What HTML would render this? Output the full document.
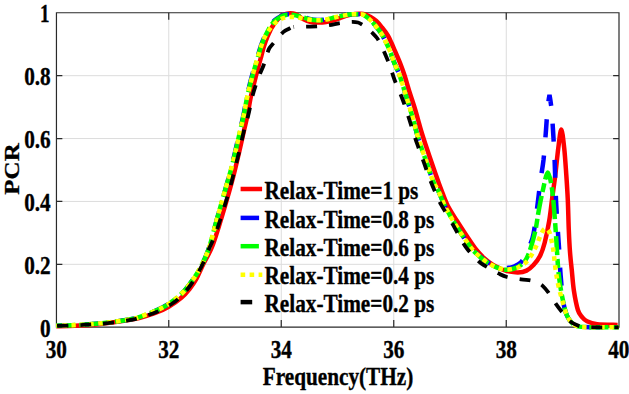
<!DOCTYPE html><html><head><meta charset="utf-8"><style>html,body{margin:0;padding:0;background:#fff;overflow:hidden}svg{display:block}text{font-family:"Liberation Serif",serif;font-weight:bold;fill:#000;stroke:#000;stroke-width:0.35px}</style></head><body>
<svg width="629" height="394" viewBox="0 0 629 394">
<path d="M168.75,12.80V327.20M281.25,12.80V327.20M393.75,12.80V327.20M506.25,12.80V327.20M56.25,264.32H618.75M56.25,201.44H618.75M56.25,138.56H618.75M56.25,75.68H618.75" stroke="#dcdcdc" stroke-width="1" fill="none"/>
<path d="M168.75,327.1v-7.1M168.75,12.75v7.1M281.25,327.1v-7.1M281.25,12.75v7.1M393.75,327.1v-7.1M393.75,12.75v7.1M506.25,327.1v-7.1M506.25,12.75v7.1M56.45,264.32h5.9M619.0,264.32h-5.9M56.45,201.44h5.9M619.0,201.44h-5.9M56.45,138.56h5.9M619.0,138.56h-5.9M56.45,75.68h5.9M619.0,75.68h-5.9" stroke="#2a2a2a" stroke-width="1.2" fill="none"/>
<path d="M56.45,12.75H619.0V327.1H56.45Z" stroke="#2a2a2a" stroke-width="1.2" fill="none"/>
<path d="M56.25,326.20 C59.38,326.12 69.04,325.92 75.00,325.70 C80.96,325.48 85.83,325.43 92.00,324.90 C98.17,324.37 105.33,323.40 112.00,322.50 C118.67,321.60 127.33,320.28 132.00,319.50 C136.67,318.72 135.92,318.97 140.00,317.80 C144.08,316.63 151.73,314.33 156.50,312.50 C161.27,310.67 164.47,309.25 168.60,306.80 C172.73,304.35 177.82,300.77 181.30,297.80 C184.78,294.83 186.97,292.18 189.50,289.00 C192.03,285.82 194.25,282.75 196.50,278.70 C198.75,274.65 200.45,269.90 203.00,264.70 C205.55,259.50 209.13,253.95 211.80,247.50 C214.47,241.05 216.55,233.75 219.00,226.00 C221.45,218.25 224.12,209.25 226.50,201.00 C228.88,192.75 231.15,184.83 233.30,176.50 C235.45,168.17 237.62,158.67 239.40,151.00 C241.18,143.33 242.65,136.50 244.00,130.50 C245.35,124.50 246.33,120.75 247.50,115.00 C248.67,109.25 249.58,102.55 251.00,96.00 C252.42,89.45 254.25,82.48 256.00,75.70 C257.75,68.92 260.13,60.33 261.50,55.30 C262.87,50.27 263.23,48.55 264.20,45.50 C265.17,42.45 266.03,40.00 267.30,37.00 C268.57,34.00 270.08,30.42 271.80,27.50 C273.52,24.58 275.90,21.50 277.60,19.50 C279.30,17.50 280.43,16.48 282.00,15.50 C283.57,14.52 285.17,13.93 287.00,13.60 C288.83,13.27 291.33,13.27 293.00,13.50 C294.67,13.73 295.50,14.18 297.00,15.00 C298.50,15.82 299.83,17.28 302.00,18.40 C304.17,19.52 307.33,21.00 310.00,21.70 C312.67,22.40 315.33,22.55 318.00,22.60 C320.67,22.65 323.00,22.52 326.00,22.00 C329.00,21.48 332.67,20.53 336.00,19.50 C339.33,18.47 342.83,16.72 346.00,15.80 C349.17,14.88 352.50,14.33 355.00,14.00 C357.50,13.67 359.22,13.70 361.00,13.80 C362.78,13.90 364.20,14.13 365.70,14.60 C367.20,15.07 368.23,15.53 370.00,16.60 C371.77,17.67 374.30,19.18 376.30,21.00 C378.30,22.82 380.08,25.08 382.00,27.50 C383.92,29.92 386.22,32.92 387.80,35.50 C389.38,38.08 390.33,40.47 391.50,43.00 C392.67,45.53 393.38,47.38 394.80,50.70 C396.22,54.02 398.40,58.85 400.00,62.90 C401.60,66.95 402.82,70.15 404.40,75.00 C405.98,79.85 407.83,86.67 409.50,92.00 C411.17,97.33 412.98,102.42 414.40,107.00 C415.82,111.58 416.87,115.50 418.00,119.50 C419.13,123.50 420.03,127.08 421.20,131.00 C422.37,134.92 423.67,138.93 425.00,143.00 C426.33,147.07 427.78,151.23 429.20,155.40 C430.62,159.57 432.03,163.77 433.50,168.00 C434.97,172.23 436.68,177.13 438.00,180.80 C439.32,184.47 439.82,185.93 441.40,190.00 C442.98,194.07 444.95,200.12 447.50,205.20 C450.05,210.28 453.52,215.42 456.70,220.50 C459.88,225.58 463.30,230.78 466.60,235.70 C469.90,240.62 473.43,246.12 476.50,250.00 C479.57,253.88 482.25,256.50 485.00,259.00 C487.75,261.50 490.50,263.42 493.00,265.00 C495.50,266.58 497.67,267.50 500.00,268.50 C502.33,269.50 504.00,270.35 507.00,271.00 C510.00,271.65 514.75,272.47 518.00,272.40 C521.25,272.33 523.92,271.83 526.50,270.60 C529.08,269.37 531.25,267.43 533.50,265.00 C535.75,262.57 538.15,259.67 540.00,256.00 C541.85,252.33 543.07,248.83 544.60,243.00 C546.13,237.17 547.93,228.50 549.20,221.00 C550.47,213.50 551.18,205.67 552.20,198.00 C553.22,190.33 554.28,183.33 555.30,175.00 C556.32,166.67 557.30,155.58 558.30,148.00 C559.30,140.42 560.32,129.50 561.30,129.50 C562.28,129.50 563.37,140.42 564.20,148.00 C565.03,155.58 565.70,166.33 566.30,175.00 C566.90,183.67 567.38,190.83 567.80,200.00 C568.22,209.17 568.43,221.33 568.80,230.00 C569.17,238.67 569.50,245.28 570.00,252.00 C570.50,258.72 571.15,263.85 571.80,270.30 C572.45,276.75 572.88,284.08 573.90,290.70 C574.92,297.32 576.55,305.62 577.90,310.00 C579.25,314.38 580.48,315.12 582.00,317.00 C583.52,318.88 584.47,320.10 587.00,321.30 C589.53,322.50 592.10,323.60 597.20,324.20 C602.30,324.80 614.20,324.78 617.60,324.90" stroke="#ff0000" stroke-width="4.5" fill="none" stroke-linejoin="round"/>
<path d="M56.25,325.80 C59.38,325.68 69.04,325.38 75.00,325.10 C80.96,324.82 86.17,324.57 92.00,324.10 C97.83,323.63 103.33,323.15 110.00,322.30 C116.67,321.45 127.00,319.92 132.00,319.00 C137.00,318.08 135.92,318.23 140.00,316.80 C144.08,315.37 151.73,312.53 156.50,310.40 C161.27,308.27 164.47,306.73 168.60,304.00 C172.73,301.27 177.82,297.28 181.30,294.00 C184.78,290.72 186.75,287.93 189.50,284.30 C192.25,280.67 195.32,276.33 197.80,272.20 C200.28,268.07 202.40,263.95 204.40,259.50 C206.40,255.05 207.88,251.58 209.80,245.50 C211.72,239.42 213.77,230.75 215.90,223.00 C218.03,215.25 220.82,205.33 222.60,199.00 C224.38,192.67 225.30,189.67 226.60,185.00 C227.90,180.33 228.95,176.67 230.40,171.00 C231.85,165.33 233.72,157.75 235.30,151.00 C236.88,144.25 238.53,136.50 239.90,130.50 C241.27,124.50 242.32,120.75 243.50,115.00 C244.68,109.25 245.58,102.55 247.00,96.00 C248.42,89.45 250.17,82.48 252.00,75.70 C253.83,68.92 256.50,60.33 258.00,55.30 C259.50,50.27 259.93,48.55 261.00,45.50 C262.07,42.45 262.93,40.20 264.40,37.00 C265.87,33.80 268.03,29.13 269.80,26.30 C271.57,23.47 273.23,21.65 275.00,20.00 C276.77,18.35 278.65,17.32 280.40,16.40 C282.15,15.48 283.80,14.87 285.50,14.50 C287.20,14.13 288.90,14.17 290.60,14.20 C292.30,14.23 294.02,14.42 295.70,14.70 C297.38,14.98 298.60,15.25 300.70,15.90 C302.80,16.55 305.53,17.90 308.30,18.60 C311.07,19.30 314.35,19.98 317.30,20.10 C320.25,20.22 322.83,19.85 326.00,19.30 C329.17,18.75 333.02,17.52 336.30,16.80 C339.58,16.08 343.08,15.42 345.70,15.00 C348.32,14.58 349.95,14.43 352.00,14.30 C354.05,14.17 356.17,14.15 358.00,14.20 C359.83,14.25 361.22,13.87 363.00,14.60 C364.78,15.33 366.78,16.95 368.70,18.60 C370.62,20.25 372.33,21.93 374.50,24.50 C376.67,27.07 379.87,31.17 381.70,34.00 C383.53,36.83 384.23,38.92 385.50,41.50 C386.77,44.08 387.83,45.93 389.30,49.50 C390.77,53.07 392.55,58.48 394.30,62.90 C396.05,67.32 397.62,69.75 399.80,76.00 C401.98,82.25 405.28,93.57 407.40,100.40 C409.52,107.23 410.73,110.82 412.50,117.00 C414.27,123.18 415.80,130.33 418.00,137.50 C420.20,144.67 423.20,152.78 425.70,160.00 C428.20,167.22 430.88,175.63 433.00,180.80 C435.12,185.97 436.48,186.93 438.40,191.00 C440.32,195.07 442.08,200.28 444.50,205.20 C446.92,210.12 449.85,215.37 452.90,220.50 C455.95,225.63 459.62,231.33 462.80,236.00 C465.98,240.67 469.30,245.25 472.00,248.50 C474.70,251.75 476.67,253.38 479.00,255.50 C481.33,257.62 483.67,259.62 486.00,261.20 C488.33,262.78 490.67,263.97 493.00,265.00 C495.33,266.03 497.67,266.90 500.00,267.40 C502.33,267.90 504.67,268.15 507.00,268.00 C509.33,267.85 511.67,267.45 514.00,266.50 C516.33,265.55 519.00,264.38 521.00,262.30 C523.00,260.22 524.50,256.88 526.00,254.00 C527.50,251.12 528.75,248.33 530.00,245.00 C531.25,241.67 532.25,240.67 533.50,234.00 C534.75,227.33 536.33,214.00 537.50,205.00 C538.67,196.00 539.50,187.50 540.50,180.00 C541.50,172.50 542.58,168.33 543.50,160.00 C544.42,151.67 545.32,138.67 546.00,130.00 C546.68,121.33 547.02,113.87 547.60,108.00 C548.18,102.13 549.50,94.80 549.50,94.80 C549.50,94.80 550.82,102.13 551.40,108.00 C551.98,113.87 552.47,121.33 553.00,130.00 C553.53,138.67 554.10,148.33 554.60,160.00 C555.10,171.67 555.47,188.33 556.00,200.00 C556.53,211.67 557.25,221.33 557.80,230.00 C558.35,238.67 558.83,244.50 559.30,252.00 C559.77,259.50 559.93,266.67 560.60,275.00 C561.27,283.33 562.28,295.33 563.30,302.00 C564.32,308.67 565.25,311.50 566.70,315.00 C568.15,318.50 570.12,321.10 572.00,323.00 C573.88,324.90 575.00,325.70 578.00,326.40 C581.00,327.10 583.21,327.05 590.00,327.20 C596.79,327.35 613.96,327.28 618.75,327.30" stroke="#0000ff" stroke-width="4.5" fill="none" stroke-linejoin="bevel" stroke-dasharray="18 18" stroke-dashoffset="10"/>
<path d="M56.25,325.80 C59.38,325.68 69.04,325.38 75.00,325.10 C80.96,324.82 86.17,324.57 92.00,324.10 C97.83,323.63 103.33,323.15 110.00,322.30 C116.67,321.45 127.00,319.92 132.00,319.00 C137.00,318.08 135.92,318.23 140.00,316.80 C144.08,315.37 151.73,312.53 156.50,310.40 C161.27,308.27 164.47,306.73 168.60,304.00 C172.73,301.27 177.82,297.28 181.30,294.00 C184.78,290.72 186.75,287.93 189.50,284.30 C192.25,280.67 195.32,276.33 197.80,272.20 C200.28,268.07 202.40,263.95 204.40,259.50 C206.40,255.05 207.88,251.58 209.80,245.50 C211.72,239.42 213.77,230.75 215.90,223.00 C218.03,215.25 220.82,205.33 222.60,199.00 C224.38,192.67 225.27,189.67 226.60,185.00 C227.93,180.33 229.10,176.67 230.60,171.00 C232.10,165.33 234.00,157.75 235.60,151.00 C237.20,144.25 238.83,136.50 240.20,130.50 C241.57,124.50 242.60,120.75 243.80,115.00 C245.00,109.25 245.95,102.55 247.40,96.00 C248.85,89.45 250.67,82.48 252.50,75.70 C254.33,68.92 256.92,60.33 258.40,55.30 C259.88,50.27 260.33,48.55 261.40,45.50 C262.47,42.45 263.33,40.15 264.80,37.00 C266.27,33.85 268.45,29.37 270.20,26.60 C271.95,23.83 273.60,22.02 275.30,20.40 C277.00,18.78 278.70,17.80 280.40,16.90 C282.10,16.00 283.80,15.35 285.50,15.00 C287.20,14.65 288.90,14.73 290.60,14.80 C292.30,14.87 294.02,15.10 295.70,15.40 C297.38,15.70 298.60,16.00 300.70,16.60 C302.80,17.20 305.53,18.38 308.30,19.00 C311.07,19.62 314.35,20.22 317.30,20.30 C320.25,20.38 322.83,20.05 326.00,19.50 C329.17,18.95 333.02,17.73 336.30,17.00 C339.58,16.27 343.08,15.55 345.70,15.10 C348.32,14.65 349.95,14.45 352.00,14.30 C354.05,14.15 356.17,14.15 358.00,14.20 C359.83,14.25 361.22,13.87 363.00,14.60 C364.78,15.33 366.78,16.95 368.70,18.60 C370.62,20.25 372.33,21.93 374.50,24.50 C376.67,27.07 379.87,31.17 381.70,34.00 C383.53,36.83 384.23,38.92 385.50,41.50 C386.77,44.08 387.83,45.93 389.30,49.50 C390.77,53.07 392.55,58.48 394.30,62.90 C396.05,67.32 397.62,69.75 399.80,76.00 C401.98,82.25 405.28,93.57 407.40,100.40 C409.52,107.23 410.73,110.82 412.50,117.00 C414.27,123.18 415.80,130.33 418.00,137.50 C420.20,144.67 423.20,152.78 425.70,160.00 C428.20,167.22 430.88,175.63 433.00,180.80 C435.12,185.97 436.48,186.93 438.40,191.00 C440.32,195.07 442.08,200.28 444.50,205.20 C446.92,210.12 449.85,215.37 452.90,220.50 C455.95,225.63 459.62,231.25 462.80,236.00 C465.98,240.75 469.30,245.67 472.00,249.00 C474.70,252.33 476.67,253.92 479.00,256.00 C481.33,258.08 483.67,259.88 486.00,261.50 C488.33,263.12 490.67,264.53 493.00,265.70 C495.33,266.87 497.67,267.83 500.00,268.50 C502.33,269.17 504.67,269.70 507.00,269.70 C509.33,269.70 511.67,269.28 514.00,268.50 C516.33,267.72 518.92,266.67 521.00,265.00 C523.08,263.33 524.83,261.50 526.50,258.50 C528.17,255.50 529.50,251.75 531.00,247.00 C532.50,242.25 534.25,235.83 535.50,230.00 C536.75,224.17 537.28,218.58 538.50,212.00 C539.72,205.42 541.25,197.08 542.80,190.50 C544.35,183.92 546.23,172.50 547.80,172.50 C549.37,172.50 551.00,182.42 552.20,190.50 C553.40,198.58 554.23,211.42 555.00,221.00 C555.77,230.58 556.25,239.83 556.80,248.00 C557.35,256.17 557.67,263.33 558.30,270.00 C558.93,276.67 559.77,282.67 560.60,288.00 C561.43,293.33 562.28,297.50 563.30,302.00 C564.32,306.50 565.25,311.50 566.70,315.00 C568.15,318.50 570.12,321.10 572.00,323.00 C573.88,324.90 575.00,325.70 578.00,326.40 C581.00,327.10 583.21,327.05 590.00,327.20 C596.79,327.35 613.96,327.28 618.75,327.30" stroke="#00ff00" stroke-width="4.5" fill="none" stroke-linejoin="round" stroke-dasharray="19 4 9 4" stroke-dashoffset="13"/>
<path d="M56.25,325.80 C59.38,325.68 69.04,325.38 75.00,325.10 C80.96,324.82 86.17,324.57 92.00,324.10 C97.83,323.63 103.33,323.15 110.00,322.30 C116.67,321.45 127.00,319.92 132.00,319.00 C137.00,318.08 135.92,318.23 140.00,316.80 C144.08,315.37 151.73,312.53 156.50,310.40 C161.27,308.27 164.47,306.73 168.60,304.00 C172.73,301.27 177.82,297.28 181.30,294.00 C184.78,290.72 186.75,287.93 189.50,284.30 C192.25,280.67 195.32,276.33 197.80,272.20 C200.28,268.07 202.40,263.95 204.40,259.50 C206.40,255.05 207.88,251.58 209.80,245.50 C211.72,239.42 213.77,230.75 215.90,223.00 C218.03,215.25 220.82,205.33 222.60,199.00 C224.38,192.67 225.27,189.67 226.60,185.00 C227.93,180.33 229.10,176.67 230.60,171.00 C232.10,165.33 234.00,157.75 235.60,151.00 C237.20,144.25 238.83,136.50 240.20,130.50 C241.57,124.50 242.60,120.75 243.80,115.00 C245.00,109.25 245.95,102.55 247.40,96.00 C248.85,89.45 250.67,82.48 252.50,75.70 C254.33,68.92 256.92,60.33 258.40,55.30 C259.88,50.27 260.33,48.55 261.40,45.50 C262.47,42.45 263.33,39.83 264.80,37.00 C266.27,34.17 268.45,30.87 270.20,28.50 C271.95,26.13 273.60,24.35 275.30,22.80 C277.00,21.25 278.70,20.08 280.40,19.20 C282.10,18.32 283.80,17.88 285.50,17.50 C287.20,17.12 288.90,16.95 290.60,16.90 C292.30,16.85 294.02,17.02 295.70,17.20 C297.38,17.38 298.60,17.62 300.70,18.00 C302.80,18.38 305.53,19.12 308.30,19.50 C311.07,19.88 314.35,20.30 317.30,20.30 C320.25,20.30 322.83,20.05 326.00,19.50 C329.17,18.95 333.02,17.73 336.30,17.00 C339.58,16.27 343.08,15.55 345.70,15.10 C348.32,14.65 349.95,14.45 352.00,14.30 C354.05,14.15 356.17,14.15 358.00,14.20 C359.83,14.25 361.22,13.87 363.00,14.60 C364.78,15.33 366.78,16.95 368.70,18.60 C370.62,20.25 372.33,21.93 374.50,24.50 C376.67,27.07 379.87,31.17 381.70,34.00 C383.53,36.83 384.23,38.92 385.50,41.50 C386.77,44.08 387.83,45.93 389.30,49.50 C390.77,53.07 392.55,58.48 394.30,62.90 C396.05,67.32 397.62,69.75 399.80,76.00 C401.98,82.25 405.28,93.57 407.40,100.40 C409.52,107.23 410.73,110.82 412.50,117.00 C414.27,123.18 415.80,130.33 418.00,137.50 C420.20,144.67 423.20,152.78 425.70,160.00 C428.20,167.22 430.88,175.63 433.00,180.80 C435.12,185.97 436.48,186.93 438.40,191.00 C440.32,195.07 442.08,200.28 444.50,205.20 C446.92,210.12 449.85,215.37 452.90,220.50 C455.95,225.63 459.62,231.25 462.80,236.00 C465.98,240.75 469.30,245.67 472.00,249.00 C474.70,252.33 476.67,253.92 479.00,256.00 C481.33,258.08 483.67,259.88 486.00,261.50 C488.33,263.12 490.67,264.53 493.00,265.70 C495.33,266.87 497.67,267.87 500.00,268.50 C502.33,269.13 504.67,269.50 507.00,269.50 C509.33,269.50 512.17,268.83 514.00,268.50 C515.83,268.17 516.67,268.05 518.00,267.50 C519.33,266.95 520.62,266.12 522.00,265.20 C523.38,264.28 524.72,263.70 526.30,262.00 C527.88,260.30 529.88,257.58 531.50,255.00 C533.12,252.42 534.67,249.33 536.00,246.50 C537.33,243.67 538.38,240.58 539.50,238.00 C540.62,235.42 541.62,232.57 542.70,231.00 C543.78,229.43 544.90,228.43 546.00,228.60 C547.10,228.77 548.37,229.93 549.30,232.00 C550.23,234.07 550.93,238.00 551.60,241.00 C552.27,244.00 552.60,245.00 553.30,250.00 C554.00,255.00 554.93,265.00 555.80,271.00 C556.67,277.00 557.40,281.03 558.50,286.00 C559.60,290.97 561.03,295.97 562.40,300.80 C563.77,305.63 565.10,311.30 566.70,315.00 C568.30,318.70 570.12,321.10 572.00,323.00 C573.88,324.90 575.00,325.70 578.00,326.40 C581.00,327.10 583.21,327.05 590.00,327.20 C596.79,327.35 613.96,327.28 618.75,327.30" stroke="#ffff00" stroke-width="4.5" fill="none" stroke-linejoin="round" stroke-dasharray="4.5 4.5" stroke-dashoffset="3"/>
<path d="M56.25,326.00 C59.38,325.88 69.04,325.57 75.00,325.30 C80.96,325.03 85.83,324.85 92.00,324.40 C98.17,323.95 105.33,323.40 112.00,322.60 C118.67,321.80 127.33,320.43 132.00,319.60 C136.67,318.77 135.92,318.87 140.00,317.60 C144.08,316.33 151.00,314.43 156.50,312.00 C162.00,309.57 168.87,305.67 173.00,303.00 C177.13,300.33 178.55,298.75 181.30,296.00 C184.05,293.25 187.05,289.75 189.50,286.50 C191.95,283.25 193.80,280.25 196.00,276.50 C198.20,272.75 200.70,268.25 202.70,264.00 C204.70,259.75 206.03,255.58 208.00,251.00 C209.97,246.42 212.42,241.83 214.50,236.50 C216.58,231.17 218.67,224.58 220.50,219.00 C222.33,213.42 223.92,208.17 225.50,203.00 C227.08,197.83 228.53,193.33 230.00,188.00 C231.47,182.67 232.75,177.17 234.30,171.00 C235.85,164.83 237.68,157.75 239.30,151.00 C240.92,144.25 242.50,136.50 244.00,130.50 C245.50,124.50 246.88,120.75 248.30,115.00 C249.72,109.25 251.30,100.83 252.50,96.00 C253.70,91.17 254.33,89.50 255.50,86.00 C256.67,82.50 258.17,78.42 259.50,75.00 C260.83,71.58 262.38,68.50 263.50,65.50 C264.62,62.50 265.25,59.83 266.20,57.00 C267.15,54.17 267.97,50.83 269.20,48.50 C270.43,46.17 272.33,44.55 273.60,43.00 C274.87,41.45 275.15,41.05 276.80,39.20 C278.45,37.35 281.55,33.60 283.50,31.90 C285.45,30.20 286.82,29.82 288.50,29.00 C290.18,28.18 290.62,27.40 293.60,27.00" stroke="#000000" stroke-width="3.8" fill="none" stroke-linejoin="round" stroke-dasharray="11 12" stroke-dashoffset="22"/>
<path d="M293.60,27.00 C296.58,26.60 302.47,26.70 306.40,26.60 C310.33,26.50 313.38,26.63 317.20,26.40 C321.02,26.17 325.50,25.77 329.30,25.20 C333.10,24.63 336.22,23.57 340.00,23.00 C343.78,22.43 349.00,21.88 352.00,21.80 C355.00,21.72 356.33,22.05 358.00,22.50 C359.67,22.95 360.50,23.58 362.00,24.50 C363.50,25.42 365.33,26.67 367.00,28.00 C368.67,29.33 370.33,30.83 372.00,32.50 C373.67,34.17 375.50,35.92 377.00,38.00 C378.50,40.08 379.58,42.17 381.00,45.00 C382.42,47.83 384.00,51.50 385.50,55.00 C387.00,58.50 388.48,61.83 390.00,66.00 C391.52,70.17 392.47,74.33 394.60,80.00 C396.73,85.67 400.48,93.83 402.80,100.00 C405.12,106.17 406.87,112.00 408.50,117.00 C410.13,122.00 411.15,125.50 412.60,130.00 C414.05,134.50 415.70,139.67 417.20,144.00 C418.70,148.33 420.13,151.92 421.60,156.00 C423.07,160.08 424.52,164.37 426.00,168.50 C427.48,172.63 428.83,176.55 430.50,180.80 C432.17,185.05 434.18,189.93 436.00,194.00 C437.82,198.07 438.97,200.78 441.40,205.20 C443.83,209.62 447.67,215.42 450.60,220.50" stroke="#000000" stroke-width="3.8" fill="none" stroke-linejoin="round" stroke-dasharray="11 12" stroke-dashoffset="10.5"/>
<path d="M450.60,220.50 C453.53,225.58 456.22,230.95 459.00,235.70 C461.78,240.45 463.97,244.70 467.30,249.00 C470.63,253.30 475.88,258.60 479.00,261.50 C482.12,264.40 482.75,264.42 486.00,266.40 C489.25,268.38 495.00,271.63 498.50,273.40 C502.00,275.17 503.25,276.00 507.00,277.00 C510.75,278.00 517.05,278.82 521.00,279.40 C524.95,279.98 528.03,279.98 530.70,280.50 C533.37,281.02 535.05,281.65 537.00,282.50 C538.95,283.35 540.48,283.90 542.40,285.60 C544.32,287.30 546.13,289.48 548.50,292.70 C550.87,295.92 554.23,301.52 556.60,304.90 C558.97,308.28 560.88,310.65 562.70,313.00 C564.52,315.35 565.82,317.30 567.50,319.00 C569.18,320.70 570.55,321.95 572.80,323.20 C575.05,324.45 578.13,325.83 581.00,326.50 C583.87,327.17 583.71,327.07 590.00,327.20 C596.29,327.33 613.96,327.28 618.75,327.30" stroke="#000000" stroke-width="3.8" fill="none" stroke-linejoin="round" stroke-dasharray="11 12" stroke-dashoffset="20"/>
<text transform="translate(50.7,336.50) scale(0.85,1)" text-anchor="end" font-size="25">0</text>
<text transform="translate(50.7,273.62) scale(0.85,1)" text-anchor="end" font-size="25">0.2</text>
<text transform="translate(50.7,210.74) scale(0.85,1)" text-anchor="end" font-size="25">0.4</text>
<text transform="translate(50.7,147.86) scale(0.85,1)" text-anchor="end" font-size="25">0.6</text>
<text transform="translate(50.7,84.98) scale(0.85,1)" text-anchor="end" font-size="25">0.8</text>
<text transform="translate(49.4,22.10) scale(0.76,1)" text-anchor="end" font-size="25">1</text>
<text transform="translate(56.25,357.5) scale(0.85,1)" text-anchor="middle" font-size="25">30</text>
<text transform="translate(168.75,357.5) scale(0.85,1)" text-anchor="middle" font-size="25">32</text>
<text transform="translate(281.25,357.5) scale(0.85,1)" text-anchor="middle" font-size="25">34</text>
<text transform="translate(393.75,357.5) scale(0.85,1)" text-anchor="middle" font-size="25">36</text>
<text transform="translate(506.25,357.5) scale(0.85,1)" text-anchor="middle" font-size="25">38</text>
<text transform="translate(618.75,357.5) scale(0.85,1)" text-anchor="middle" font-size="25">40</text>
<text transform="translate(338,385) scale(0.85,1)" text-anchor="middle" font-size="25">Frequency(THz)</text>
<text transform="translate(18.6,169) rotate(-90) scale(1,0.85)" text-anchor="middle" font-size="25">PCR</text>
<path d="M240.6,189h21.5" stroke="#ff0000" stroke-width="4.5"/>
<text transform="translate(264.5,198.60) scale(0.85,1)" font-size="25">Relax-Time=1 ps</text>
<path d="M240.6,217.9h18.5" stroke="#0000ff" stroke-width="4.5"/>
<text transform="translate(264.5,227.50) scale(0.85,1)" font-size="25">Relax-Time=0.8 ps</text>
<path d="M240.6,246.2h18.3" stroke="#00ff00" stroke-width="4.5"/>
<text transform="translate(264.5,255.80) scale(0.85,1)" font-size="25">Relax-Time=0.6 ps</text>
<path d="M240.6,274.7h21.7" stroke="#ffff00" stroke-width="4.5" stroke-dasharray="4.6 4.4"/>
<text transform="translate(264.5,284.30) scale(0.85,1)" font-size="25">Relax-Time=0.4 ps</text>
<path d="M240.6,302.1h11.6" stroke="#000000" stroke-width="4.5"/>
<text transform="translate(264.5,311.70) scale(0.85,1)" font-size="25">Relax-Time=0.2 ps</text>
</svg></body></html>
